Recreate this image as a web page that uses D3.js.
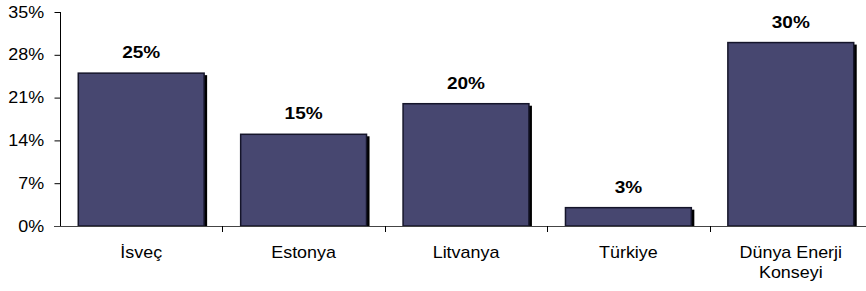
<!DOCTYPE html>
<html>
<head>
<meta charset="utf-8">
<script src="https://cdn.jsdelivr.net/npm/d3@7"></script>
<style>
  body { margin: 0; background: #fff; }
  svg { display: block; font-family: "Liberation Sans", Arial, sans-serif; }
</style>
</head>
<body>
<svg id="chart" width="866" height="291"></svg>
<script>
// data
var categories = ['İsveç', 'Estonya', 'Litvanya', 'Türkiye', 'Dünya Enerji Konseyi'];
var values = [25, 15, 20, 3, 30];
var yTicks = [0, 7, 14, 21, 28, 35];

var svg = d3.select('#chart');

var x0 = 60, y0 = 226, yTop = 12;
var step = 162.4;
var stretch = 'scale(1.12,1)'; // the source chart's text is a bit wide

var xScale = d3.scaleBand()
    .domain(categories)
    .range([x0, x0 + step * categories.length])
    .paddingInner(0.225)
    .paddingOuter(0.1125);

var yScale = d3.scaleLinear()
    .domain([0, 35])
    .range([y0, yTop]);

var mid = function (d) { return xScale(d) + xScale.bandwidth() / 2; };

// bar shadows
svg.append('g').selectAll('rect')
    .data(values)
    .enter().append('rect')
    .attr('x', function (d, i) { return xScale(categories[i]) + 3; })
    .attr('y', function (d) { return yScale(d) + 2; })
    .attr('width', xScale.bandwidth())
    .attr('height', function (d) { return y0 - yScale(d) - 2; })
    .attr('fill', '#000');

// bars
svg.append('g').selectAll('rect')
    .data(values)
    .enter().append('rect')
    .attr('x', function (d, i) { return xScale(categories[i]); })
    .attr('y', function (d) { return yScale(d); })
    .attr('width', xScale.bandwidth())
    .attr('height', function (d) { return y0 - yScale(d); })
    .attr('fill', '#474770')
    .attr('stroke', '#15152a')
    .attr('stroke-width', 1.5);

// y axis
var yAxis = d3.axisLeft(yScale)
    .tickValues(yTicks)
    .tickSize(6)
    .tickPadding(8.7)
    .tickFormat(function (d) { return d + '%'; });

var yg = svg.append('g')
    .attr('transform', 'translate(' + (x0 + 0.5) + ',0)')
    .call(yAxis);
yg.select('.domain').attr('d', 'M0,' + yTop + 'V' + y0);
yg.selectAll('text')
    .attr('font-size', 16)
    .attr('fill', '#000')
    .attr('font-family', null)
    .attr('transform', stretch);

// x axis line and boundary ticks
svg.append('line')
    .attr('x1', x0 - 6).attr('x2', 866)
    .attr('y1', y0 + 0.5).attr('y2', y0 + 0.5)
    .attr('stroke', '#444');

svg.append('g').selectAll('line')
    .data(d3.range(1, categories.length))
    .enter().append('line')
    .attr('x1', function (i) { return Math.round(x0 + step * i) + 0.5; })
    .attr('x2', function (i) { return Math.round(x0 + step * i) + 0.5; })
    .attr('y1', y0)
    .attr('y2', y0 + 6)
    .attr('stroke', '#000');

// category labels
var catLines = [['İsveç'], ['Estonya'], ['Litvanya'], ['Türkiye'], ['Dünya Enerji', 'Konseyi']];
svg.append('g').selectAll('text')
    .data(categories)
    .enter().append('text')
    .attr('transform', function (d) { return 'translate(' + mid(d) + ',258) ' + stretch; })
    .attr('text-anchor', 'middle')
    .attr('font-size', 16)
    .each(function (d, i) {
        var t = d3.select(this);
        catLines[i].forEach(function (s, j) {
            t.append('tspan')
                .attr('x', 0)
                .attr('dy', j === 0 ? 0 : 20)
                .text(s);
        });
    });

// value labels
svg.append('g').selectAll('text')
    .data(values)
    .enter().append('text')
    .attr('transform', function (d, i) {
        return 'translate(' + mid(categories[i]) + ',' + (yScale(d) - 15) + ') ' + stretch;
    })
    .attr('text-anchor', 'middle')
    .attr('font-size', 17)
    .attr('font-weight', 'bold')
    .text(function (d) { return d + '%'; });
</script>
</body>
</html>
